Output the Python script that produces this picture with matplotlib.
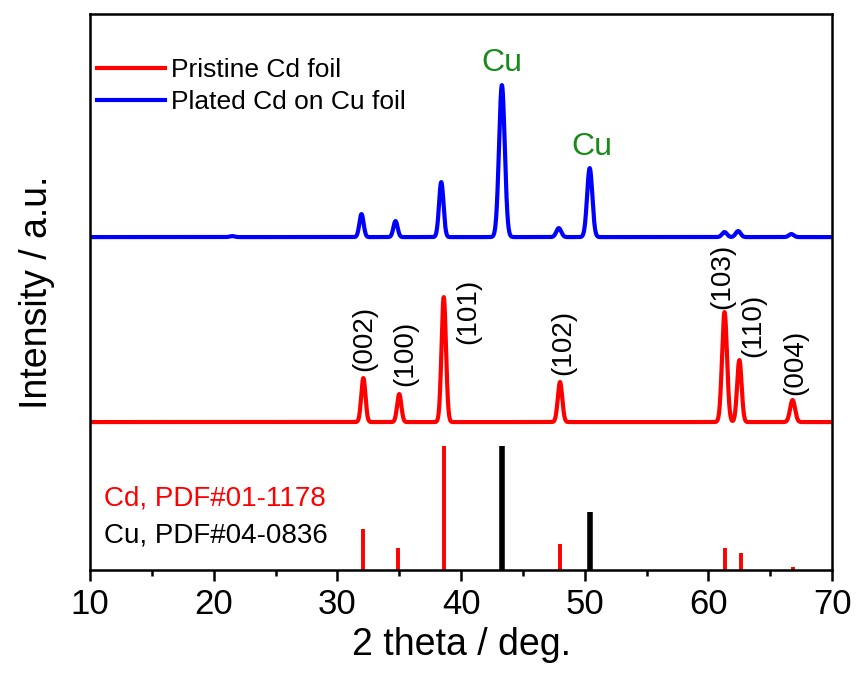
import numpy as np
import matplotlib
matplotlib.use("Agg")
import matplotlib.pyplot as plt

plt.rcParams['font.family'] = ['Liberation Sans', 'DejaVu Sans']

# peak tables (2theta, height above baseline, width sigma)
cd_pos = [32.1, 35.0, 38.6, 48.0, 61.3, 62.5, 66.8]
cd_int = [44, 28, 125, 40, 110, 62, 22]
cd_sig = [0.17, 0.17, 0.18, 0.18, 0.2, 0.18, 0.2]

cu_pos = [21.5, 31.95, 34.7, 38.4, 43.3, 47.9, 50.4, 61.3, 62.4, 66.7]
cu_int = [1, 23, 16, 55, 152, 9, 69, 5, 6, 3]
cu_sig = [0.2, 0.17, 0.17, 0.18, 0.23, 0.2, 0.21, 0.2, 0.2, 0.2]

# vertical offsets of the curves
red_base = 148
blue_base = 333

# reference sticks
cd_ref_pos = [32.1, 34.9, 38.6, 48.0, 61.3, 62.6, 66.8]
cd_ref_int = [41, 22, 124, 26, 22, 17, 3]
cu_ref_pos = [43.3, 50.4]
cu_ref_int = [124, 58]

hkl = ['(002)', '(100)', '(101)', '(102)', '(103)', '(110)', '(004)']
hkl_x = [32.15, 35.45, 40.6, 48.3, 61.1, 63.6, 67.0]
hkl_y = [232, 217, 259, 228, 294, 245, 208]

x = np.linspace(10, 70, 6000)


def profile(pos, inten, sig):
    y = np.zeros_like(x)
    for p, h, s in zip(pos, inten, sig):
        y += h * np.exp(-0.5 * ((x - p) / s) ** 2)
    return y


fig = plt.figure(figsize=(8.57, 6.73), dpi=100)
ax = fig.add_axes([0.105, 0.153, 0.866, 0.826])

ax.plot(x, red_base + profile(cd_pos, cd_int, cd_sig), color='#ff0000', lw=3, label='Pristine Cd foil')
ax.plot(x, blue_base + profile(cu_pos, cu_int, cu_sig), color='#0000ff', lw=3, label='Plated Cd on Cu foil')

ax.vlines(cd_ref_pos, 0, cd_ref_int, color='#ff0000', lw=2.8)
ax.vlines(cu_ref_pos, 0, cu_ref_int, color='black', lw=4)

for lab, hx, hy in zip(hkl, hkl_x, hkl_y):
    ax.text(hx, hy, lab, rotation=90, ha='center', va='center', fontsize=20)

ax.text(43.3, 507, 'Cu', color='#1a8a1a', ha='center', va='center', fontsize=23)
ax.text(50.55, 423, 'Cu', color='#1a8a1a', ha='center', va='center', fontsize=23)

ax.text(11.1, 72, 'Cd, PDF#01-1178', color='#ff0000', fontsize=20, va='center')
ax.text(11.1, 35, 'Cu, PDF#04-0836', color='black', fontsize=20, va='center')

leg = ax.legend(loc='upper left', bbox_to_anchor=(-0.022, 0.964), frameon=False, fontsize=19,
                handlelength=2.55, handletextpad=0.22, labelspacing=0.32)
for h in leg.get_lines():
    h.set_linewidth(3)

ax.set_xlim(10, 70)
ax.set_ylim(0, 556)
ax.set_xticks(range(10, 71, 10))
ax.set_xticks(range(15, 70, 10), minor=True)
ax.set_yticks([])
ax.tick_params(axis='x', which='major', direction='out', length=8, width=1.8, labelsize=25, pad=5)
ax.tick_params(axis='x', which='minor', direction='out', length=4.5, width=1.8)
for s in ax.spines.values():
    s.set_linewidth(1.8)

ax.set_xlabel('2 theta / deg.', fontsize=27, labelpad=4)
ax.set_ylabel('Intensity / a.u.', fontsize=27, labelpad=25)

fig.savefig('out.png', dpi=100)
